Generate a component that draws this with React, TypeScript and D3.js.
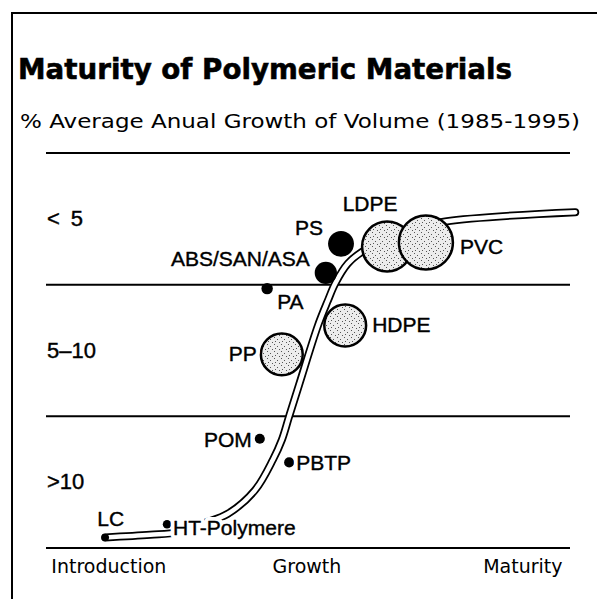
import * as d3 from 'd3';
import { useEffect, useRef } from 'react';

// polymer materials: lifecycle position (0-100), growth band (0 = >10%, 3 = top), relative volume
const materials = ['LC', 'HT-Polymere', 'POM', 'PBTP', 'PP', 'PA', 'ABS/SAN/ASA', 'PS', 'HDPE', 'LDPE', 'PVC'];
const lifecycle = [11.3, 23.1, 40.8, 46.4, 45.0, 42.2, 53.4, 56.3, 57.1, 65.1, 72.5];
const growth = [0.08, 0.18, 0.83, 0.65, 1.47, 1.97, 2.09, 2.31, 1.69, 2.29, 2.32];
const volume = [2, 2.5, 3.5, 3.5, 60, 4.5, 17, 23, 60, 86, 100];

// maturity curve (same units)
const curveX = [11.3, 19.9, 25.2, 30.3, 34.7, 39.9, 43.3, 45.0, 46.4, 48.3, 51.9, 53.8, 55.2, 57.6, 60.3, 67.6, 76.2, 101];
const curveY = [0.08, 0.10, 0.12, 0.19, 0.26, 0.44, 0.67, 0.82, 1.0, 1.24, 1.69, 1.88, 2.01, 2.16, 2.25, 2.4, 2.48, 2.55];

const bandLabels = ['>10', '5\u201310', '<\u20025'];
const stageLabels = ['Introduction', 'Growth', 'Maturity'];
const stagePos = [12, 49.8, 91];

const title = 'Maturity of Polymeric Materials';
const subtitle = '% Average Anual Growth of Volume (1985-1995)';

// label placement relative to each mark: dx, dy, anchor
const labelLayout = {
    'LC': [-8, -11, 'start'],
    'HT-Polymere': [6, 11, 'start'],
    'POM': [-8, 8, 'end'],
    'PBTP': [7, 8, 'start'],
    'PP': [-25, 7, 'end'],
    'PA': [10, 20, 'start'],
    'ABS/SAN/ASA': [-16, -7, 'end'],
    'PS': [-18, -9, 'end'],
    'HDPE': [27, 7, 'start'],
    'LDPE': [-17, -35, 'middle'],
    'PVC': [34, 11, 'start'],
};

export default function App() {
    const ref = useRef(null);
    const width = 597, height = 599;

    useEffect(() => {
        drawChart();
    }, []);

    function drawChart() {
        d3.select(ref.current).select('svg').remove();

        const svg = d3.select(ref.current)
            .append('svg')
            .attr('width', width)
            .attr('height', height)
            .style('position', 'absolute')
            .style('left', 0)
            .style('top', 0)
            .style('background', '#fff');

        const font = "'Liberation Sans', Arial, sans-serif";
        const headFont = "'DejaVu Sans', sans-serif";

        // stipple texture for the big bubbles
        const pat = svg.append('defs').append('pattern')
            .attr('id', 'stipple')
            .attr('patternUnits', 'userSpaceOnUse')
            .attr('width', 7).attr('height', 7);
        pat.append('rect').attr('width', 7).attr('height', 7).attr('fill', '#ececec');
        [[1, 1], [4, 3], [2, 5], [6, 6]].forEach(p => {
            pat.append('rect').attr('x', p[0]).attr('y', p[1]).attr('width', 1).attr('height', 1).attr('fill', '#555');
        });

        const x = d3.scaleLinear().domain([0, 100]).range([46, 570]);
        const y = d3.scaleLinear().domain([0, 3]).range([548, 153]);
        const r = d3.scaleSqrt().domain([0, 100]).range([0, 27]);

        // frame
        svg.append('path')
            .attr('d', 'M12,599V13H597')
            .attr('fill', 'none')
            .attr('stroke', '#000')
            .attr('stroke-width', 2);

        svg.append('text')
            .attr('x', 18).attr('y', 79)
            .attr('font-family', headFont)
            .attr('font-weight', 'bold')
            .attr('font-size', 29)
            .attr('stroke', '#000')
            .attr('stroke-width', 0.6)
            .attr('textLength', 494)
            .attr('lengthAdjust', 'spacingAndGlyphs')
            .text(title);

        svg.append('text')
            .attr('x', 20).attr('y', 128)
            .attr('font-family', headFont)
            .attr('font-size', 20)
            .attr('textLength', 560)
            .attr('lengthAdjust', 'spacingAndGlyphs')
            .text(subtitle);

        // band rules
        svg.append('g')
            .selectAll('line')
            .data(d3.range(0, 4))
            .enter()
            .append('line')
            .attr('x1', x(0)).attr('x2', x(100))
            .attr('y1', d => y(d)).attr('y2', d => y(d))
            .attr('stroke', '#000')
            .attr('stroke-width', 2);

        svg.append('g')
            .selectAll('text')
            .data(bandLabels)
            .enter()
            .append('text')
            .attr('x', x(0) + 1)
            .attr('y', (d, i) => y(i + 0.5) + 7)
            .attr('font-family', font)
            .attr('font-size', 22)
            .attr('stroke', '#000')
            .attr('stroke-width', 0.4)
            .text(d => d);

        svg.append('g')
            .selectAll('text')
            .data(stageLabels)
            .enter()
            .append('text')
            .attr('x', (d, i) => x(stagePos[i]))
            .attr('y', y(0) + 25)
            .attr('text-anchor', 'middle')
            .attr('font-family', headFont)
            .attr('font-size', 19)
            .text(d => d);

        // the maturity curve, drawn as a hollow tube
        const pts = curveX.map((v, i) => [x(v), y(curveY[i])]);
        const line = d3.line().curve(d3.curveCatmullRom.alpha(0.5));
        svg.append('path')
            .attr('d', line(pts))
            .attr('fill', 'none')
            .attr('stroke', '#000')
            .attr('stroke-width', 8)
            .attr('stroke-linecap', 'round');
        svg.append('path')
            .attr('d', line(pts))
            .attr('fill', 'none')
            .attr('stroke', '#fff')
            .attr('stroke-width', 4.5)
            .attr('stroke-linecap', 'round');

        const data = materials.map((m, i) => ({ name: m, px: x(lifecycle[i]), py: y(growth[i]), rad: r(volume[i]) }));

        svg.append('g')
            .selectAll('circle')
            .data(data)
            .enter()
            .append('circle')
            .attr('cx', d => d.px)
            .attr('cy', d => d.py)
            .attr('r', d => d.rad)
            .attr('fill', d => d.rad > 15 ? 'url(#stipple)' : '#000')
            .attr('stroke', '#000')
            .attr('stroke-width', d => d.rad > 15 ? 2.5 : 0);

        // white halo under labels, then the labels
        const labels = svg.append('g');
        ['halo', 'text'].forEach(layer => {
            labels.append('g')
                .selectAll('text')
                .data(data)
                .enter()
                .append('text')
                .attr('x', d => d.px + labelLayout[d.name][0])
                .attr('y', d => d.py + labelLayout[d.name][1])
                .attr('text-anchor', d => labelLayout[d.name][2])
                .attr('font-family', font)
                .attr('font-size', 21)
                .attr('fill', layer === 'halo' ? '#fff' : '#000')
                .attr('stroke', layer === 'halo' ? '#fff' : '#000')
                .attr('stroke-width', layer === 'halo' ? 8 : 0.4)
                .attr('stroke-linejoin', 'round')
                .text(d => d.name);
        });
    }

    return (<div ref={ref} />);
}
